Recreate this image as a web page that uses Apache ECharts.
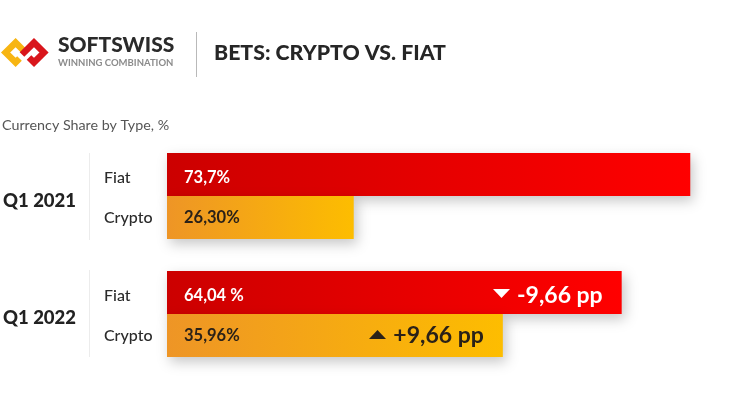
<!DOCTYPE html>
<html lang="en">
<head>
  <meta charset="UTF-8">
  <title>Bets: crypto vs. fiat</title>
  <style>
    html, body { margin: 0; background: #fff; }
    #main { width: 744px; height: 420px; }
  </style>
</head>
<body>
  <div id="main"></div>
  <script src="https://cdn.jsdelivr.net/npm/echarts@6/dist/echarts.min.js"></script>
  <script>
    var periods = ["Q1 2021", "Q1 2022"];
    var categories = ["Fiat", "Crypto"];
    // bar lengths as drawn in the picture: the last one is drawn longer than its 35,96% label
    var barValues2021 = [73.7, 26.3];
    var barValues2022 = [64.04, 47.3];
    var barLabels2021 = ["73,7%", "26,30%"];
    var barLabels2022 = ["64,04 %", "35,96%"];
    var deltaLabels2022 = ["-9,66 pp", "+9,66 pp"];

    var FONT = "Lato";
    var myChart = echarts.init(document.getElementById("main"));

    function barColor(i) {
      var stops = i === 0 ? ["#cc0000", "#ff0000"] : ["#ee9526", "#fdbd00"];
      return new echarts.graphic.LinearGradient(0, 0, 1, 0, [
        { offset: 0, color: stops[0] },
        { offset: 1, color: stops[1] }
      ]);
    }

    function barSeries(gridIndex, values, labels) {
      return {
        type: "bar",
        xAxisIndex: gridIndex,
        yAxisIndex: gridIndex,
        barWidth: "100%",
        data: values.map(function (v, i) {
          return {
            value: v,
            itemStyle: {
              color: barColor(i),
              shadowColor: "rgba(0,0,0,0.22)",
              shadowBlur: 12,
              shadowOffsetX: 3,
              shadowOffsetY: 5
            },
            label: {
              show: true,
              position: "insideLeft",
              distance: 17,
              offset: [0, i === 0 ? 3 : 0],
              formatter: labels[i],
              fontFamily: FONT,
              fontWeight: "bold",
              fontSize: 16.5,
              color: i === 0 ? "#fff" : "#2a2118"
            }
          };
        })
      };
    }

    // transparent bar on top, only there to carry the pp label at the bar end
    var deltaSeries = {
      type: "bar",
      xAxisIndex: 1,
      yAxisIndex: 1,
      barWidth: "100%",
      barGap: "-100%",
      z: 5,
      itemStyle: { color: "transparent" },
      data: barValues2022.map(function (v, i) {
        return {
          value: v,
          label: {
            show: true,
            position: "insideRight",
            distance: 19,
            offset: [0, i === 0 ? 3 : 0],
            formatter: deltaLabels2022[i],
            fontFamily: FONT,
            fontWeight: "bold",
            fontSize: 23,
            color: i === 0 ? "#fff" : "#2a2118"
          }
        };
      })
    };

    function xAxis(gridIndex) {
      return { type: "value", gridIndex: gridIndex, min: 0, max: 80, show: false };
    }

    function yAxis(gridIndex) {
      return {
        type: "category",
        gridIndex: gridIndex,
        inverse: true,
        data: categories,
        axisLine: { show: false },
        axisTick: { show: false },
        axisLabel: {
          align: "left",
          margin: 63,
          formatter: function (name) {
            return "{" + (name === categories[0] ? "top" : "low") + "|" + name + "}";
          },
          rich: {
            top: { fontFamily: FONT, fontWeight: 500, fontSize: 16, color: "#2b2b2b", padding: [7, 0, 0, 0] },
            low: { fontFamily: FONT, fontWeight: 500, fontSize: 16, color: "#2b2b2b" }
          }
        }
      };
    }

    function periodText(i, y) {
      return {
        type: "text",
        left: 3,
        top: y,
        style: { text: periods[i], fontFamily: FONT, fontWeight: 900, fontSize: 18.5, fill: "#222" }
      };
    }

    function rule(x, y1, y2, color) {
      return {
        type: "line",
        shape: { x1: x, y1: y1, x2: x, y2: y2 },
        style: { stroke: color, lineWidth: 1 }
      };
    }

    function logoArm(points, color) {
      return {
        type: "polyline",
        shape: { points: points },
        style: { stroke: color, lineWidth: 6.5, fill: "none", lineJoin: "miter", lineCap: "butt" }
      };
    }

    function triangle(points, color) {
      return { type: "polygon", z: 10, shape: { points: points }, style: { fill: color } };
    }

    option = {
      backgroundColor: "#fff",
      animation: false,
      grid: [
        { left: 167, top: 153, width: 568, height: 86 },
        { left: 167, top: 271, width: 568, height: 86 }
      ],
      xAxis: [xAxis(0), xAxis(1)],
      yAxis: [yAxis(0), yAxis(1)],
      series: [
        barSeries(0, barValues2021, barLabels2021),
        barSeries(1, barValues2022, barLabels2022),
        deltaSeries
      ],
      graphic: [
        logoArm([[24, 51], [15.6, 42.6], [5.6, 52.5], [15.6, 62.4], [19.5, 58.5]], "#f7b512"),
        logoArm([[22, 54.5], [34, 42.6], [44, 52.5], [34, 62.4], [29, 57.5]], "#d9161c"),
        { type: "text", left: 58, top: 35, style: { text: "SOFTSWISS", fontFamily: FONT, fontWeight: 900, fontSize: 21, fill: "#2a2a2a" } },
        { type: "text", left: 58, top: 58, style: { text: "WINNING COMBINATION", fontFamily: FONT, fontWeight: "bold", fontSize: 9.5, fill: "#8b8b8b" } },
        rule(196.5, 32, 77, "#b9b9b9"),
        { type: "text", left: 214, top: 43, style: { text: "BETS: CRYPTO VS. FIAT", fontFamily: FONT, fontWeight: 900, fontSize: 21.3, fill: "#262626" } },
        { type: "text", left: 2, top: 118, style: { text: "Currency Share by Type, %", fontFamily: FONT, fontSize: 14.3, fill: "#555" } },
        rule(89.5, 153, 240, "#ececec"),
        rule(89.5, 270, 357, "#ececec"),
        periodText(0, 192),
        periodText(1, 309),
        triangle([[493, 289], [510, 289], [501.5, 298]], "#fff"),
        triangle([[369, 339], [386, 339], [377.5, 330]], "#2a2118")
      ]
    };

    myChart.setOption(option);
  </script>
</body>
</html>
